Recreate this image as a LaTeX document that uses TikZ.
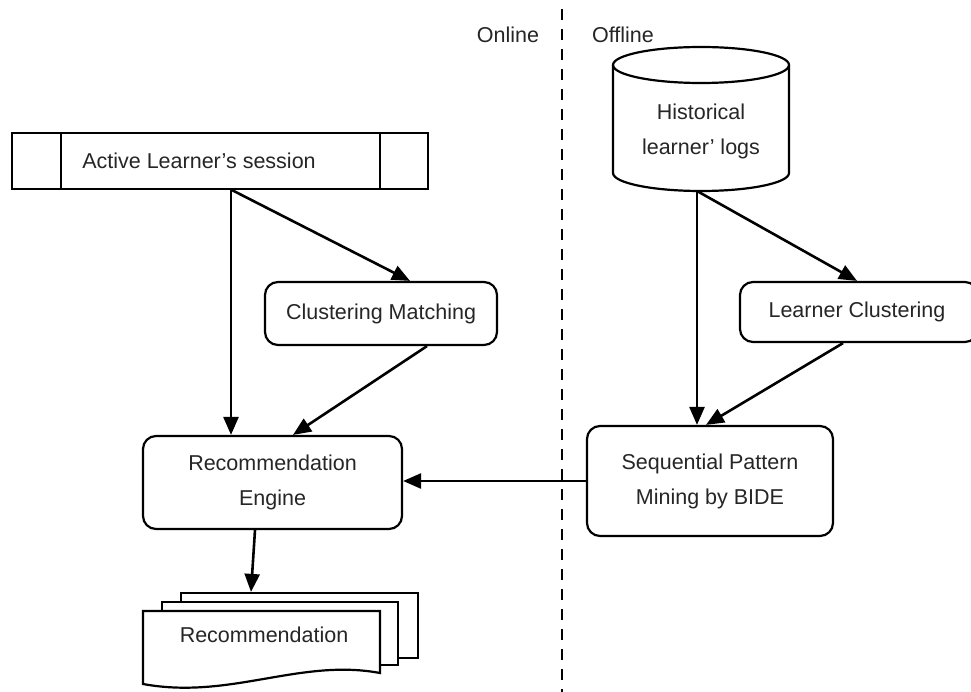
\documentclass[tikz,border=0pt]{standalone}
\usepackage{fontspec}
\setmainfont{Liberation Sans}
\usetikzlibrary{arrows.meta}
\begin{document}
\begin{tikzpicture}[x=1pt,y=-1pt,
  every node/.style={font=\fontsize{21.5}{35}\selectfont, text=black!85},
  rbox/.style={draw, line width=2.2pt, rounded corners=13pt, align=center, inner sep=0pt},
  sqbox/.style={draw, line width=2.2pt, inner sep=0pt},
  arr/.style={line width=2.6pt, -{Triangle[length=18pt,width=15pt]}},
  paper/.style={draw, line width=2.2pt, fill=white}
]
\useasboundingbox (0,0) rectangle (971,692);
\fill[white] (0,0) rectangle (971,692);

% divider
\draw[line width=2.8pt, dash pattern=on 11pt off 9pt] (562,9) -- (562,692);
\node (online) at (508,35) {Online};
\node (offline) at (623,35) {Offline};

% active learner's session
\node[sqbox, minimum width=416pt, minimum height=56pt] (sess) at (220,161) {};
\draw[line width=2.2pt] ([xshift=50pt]sess.north west) -- ([xshift=50pt]sess.south west);
\draw[line width=2.2pt] ([xshift=-49pt]sess.north east) -- ([xshift=-49pt]sess.south east);
\node (sesstxt) at (199,161) {Active Learner's session};

% cylinder
\draw[line width=2.2pt, fill=white] (613,65) -- (613,173) arc[start angle=180, end angle=0, x radius=88, y radius=18] -- (789,65);
\draw[line width=2.2pt] (701,65) ellipse[x radius=88, y radius=18];
\node[align=center] (cyl) at (701,131) {Historical\\learner' logs};
\coordinate (cylbot) at (697,191);

% boxes
\node[rbox, minimum width=232pt, minimum height=63pt] (cm) at (381,313.5) {Clustering Matching};
\node[rbox, minimum width=238pt, minimum height=60pt] (lc) at (859,312) {};
\node (lctxt) at (857,312) {Learner Clustering};
\node[rbox, minimum width=259pt, minimum height=93pt] (re) at (272.5,482.5) {Recommendation\\Engine};
\node[rbox, minimum width=246pt, minimum height=110pt] (seq) at (710,481) {Sequential Pattern\\Mining by BIDE};

% document stack
\node[paper, minimum width=237pt, minimum height=65pt, inner sep=0pt] (back) at (299.5,625.5) {};
\node[paper, minimum width=236pt, minimum height=63pt, inner sep=0pt] (mid) at (280,633.5) {};
\draw[paper] (143,611) -- (380,611) -- (380,673)
  .. controls (300,658) and (230,700) .. (143,684) -- cycle;
\node (rec) at (264,635) {Recommendation};

% connectors
\draw[arr] ([xshift=11pt]sess.south) -- ([xshift=-41.5pt]re.north);
\draw[arr] ([xshift=12pt]sess.south) -- ([xshift=29pt]cm.north);
\draw[arr] ([xshift=46pt]cm.south) -- ([xshift=20.5pt]re.north);
\draw[arr] (cylbot) -- ([xshift=-13pt]seq.north);
\draw[arr] (cylbot) -- ([xshift=-2pt]lc.north);
\draw[arr] ([xshift=-16pt]lc.south) -- ([xshift=-4pt]seq.north);
\draw[arr] (seq.west) -- (seq.west -| re.east);
\draw[arr] ([xshift=-17.5pt]re.south) -- ([xshift=-48.5pt]back.north);
\end{tikzpicture}
\end{document}
